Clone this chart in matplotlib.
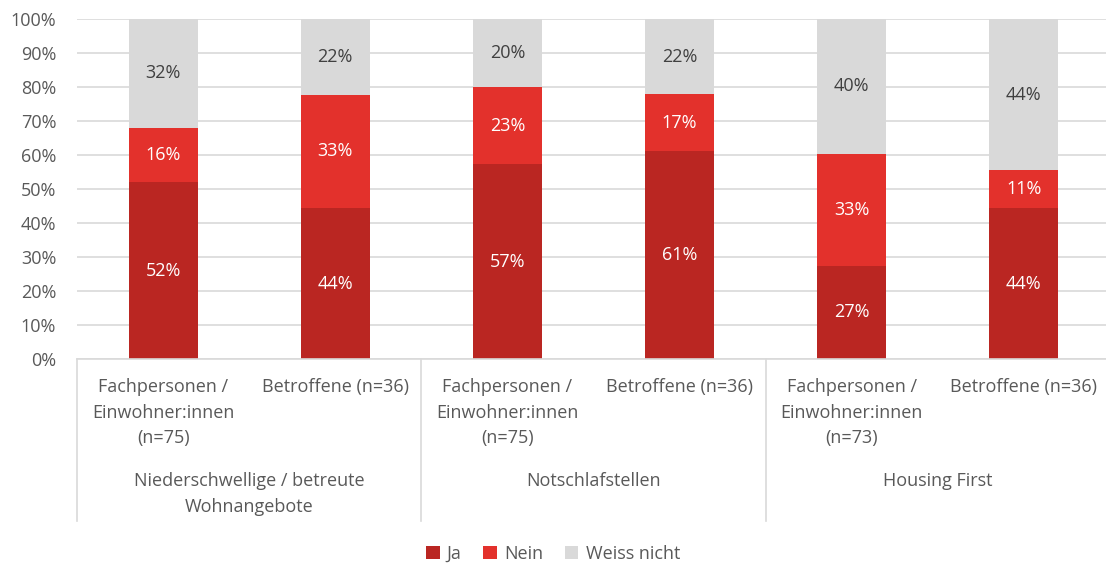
import matplotlib
matplotlib.use("Agg")
import matplotlib.pyplot as plt
import matplotlib.transforms as mtransforms
import numpy as np

# data (percent)
sub_labels = ["Fachpersonen /\nEinwohner:innen\n(n=75)", "Betroffene (n=36)",
              "Fachpersonen /\nEinwohner:innen\n(n=75)", "Betroffene (n=36)",
              "Fachpersonen /\nEinwohner:innen\n(n=73)", "Betroffene (n=36)"]
groups = ["Niederschwellige / betreute\nWohnangebote", "Notschlafstellen", "Housing First"]
ja = [52.0, 44.4, 57.3, 61.1, 27.4, 44.4]
nein = [16.0, 33.3, 22.7, 16.7, 32.9, 11.1]
weiss = [32.0, 22.2, 20.0, 22.2, 39.7, 44.4]
series_names = ["Ja", "Nein", "Weiss nicht"]

colors = ["#BA2622", "#E3312C", "#D9D9D9"]
text_col = "#595959"
grid_col = "#D9D9D9"

plt.rcParams['font.family'] = ['Open Sans', 'DejaVu Sans']
fs = 13

W, H = 1106, 566
fig = plt.figure(figsize=(W / 100, H / 100), dpi=100)
ax = fig.add_axes([77 / W, (H - 359) / H, (1110 - 77) / W, 340 / H])

x = np.arange(len(ja))
bottom = np.zeros(len(ja))
for vals, col, name in zip([ja, nein, weiss], colors, series_names):
  vals = np.array(vals)
  ax.bar(x, vals, 0.4, bottom=bottom, color=col, label=name, zorder=2)
  lab_col = "white" if col != colors[2] else "#404040"
  for xi, b, v in zip(x, bottom, vals):
    ax.text(xi, b + v / 2, "%d%%" % round(v), ha="center", va="center",
            color=lab_col, fontsize=fs, zorder=3)
  bottom += vals

ax.set_xlim(-0.5, 5.5)
ax.set_ylim(0, 100)
ax.set_yticks(np.arange(0, 101, 10))
ax.set_yticklabels(["%d%%" % t for t in range(0, 101, 10)])
ax.tick_params(axis="y", length=0, pad=15, labelsize=fs, labelcolor=text_col)
ax.set_xticks([])
ax.grid(axis="y", color=grid_col, linewidth=1.2, zorder=0)
for s in ["top", "right", "left"]:
  ax.spines[s].set_visible(False)
ax.spines["bottom"].set_color(grid_col)
ax.spines["bottom"].set_linewidth(1.2)

# category axis: sub labels, group labels and separators
trans = mtransforms.blended_transform_factory(ax.transData, ax.transAxes)
px = 1.0 / 340
for xi, lab in zip(x, sub_labels):
  ax.text(xi, -19 * px, lab, transform=trans, ha="center", va="top",
          color=text_col, fontsize=fs, linespacing=1.55)
for gi, g in enumerate(groups):
  ax.text(2 * gi + 0.5, -113 * px, g, transform=trans, ha="center", va="top",
          color=text_col, fontsize=fs, linespacing=1.55)
for sx in [-0.5, 1.5, 3.5, 5.5]:
  ax.plot([sx, sx], [0, -162 * px], transform=trans, color=grid_col,
          linewidth=1.2, clip_on=False)

fig.legend(loc="center", bbox_to_anchor=(0.5, 1 - 554 / H), ncol=3, frameon=False,
           fontsize=fs, labelcolor=text_col, handlelength=0.75, handleheight=0.75,
           handletextpad=0.4, columnspacing=1.2)

fig.savefig("out.png", dpi=100)
